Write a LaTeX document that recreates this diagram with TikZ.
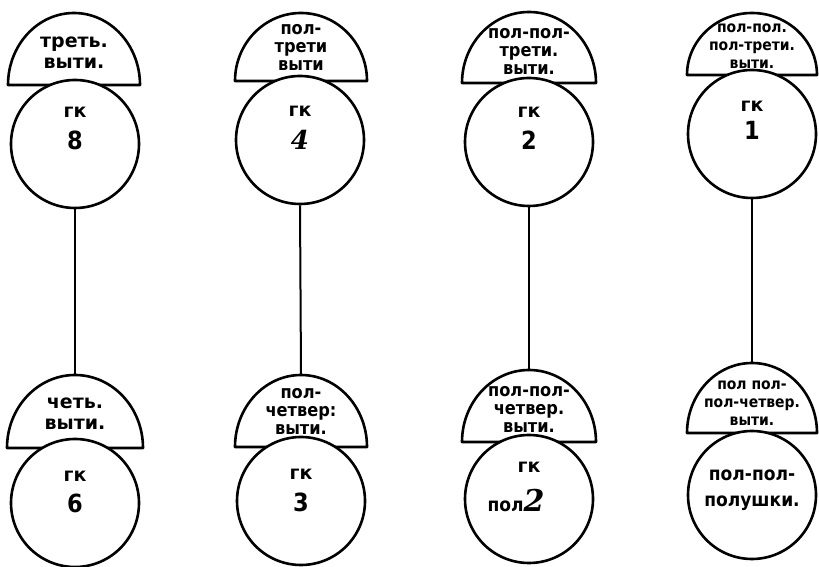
\documentclass[tikz,border=0pt]{standalone}
\usepackage{fontspec}
\newfontfamily\lblfam{DejaVu Sans}
\newfontfamily\condfam{DejaVu Sans Condensed}
\newfontfamily\serifit{DejaVu Serif}
\newcommand\domeat[5]{%
  \draw[dome] ({#1-#3},#2) -- ({#1+#3},#2) arc[start angle=0,end angle=180,x radius=#3,y radius=#4] -- cycle;
  \coordinate (#5) at (#1,{#2+#4});}
\begin{document}
\begin{tikzpicture}[x=1pt,y=1pt,
  dome/.style={draw, line width=2.6pt, fill=white, line join=round},
  disc/.style={circle, draw, line width=2.6pt, fill=white, minimum size=128pt, inner sep=0pt},
  link/.style={line width=2pt},
  lbl/.style={align=center, inner sep=0pt, font=\condfam\bfseries\fontsize{18}{18}\selectfont},
  lblwide/.style={align=center, inner sep=0pt, font=\lblfam\bfseries\fontsize{19}{21}\selectfont},
  lblsmall/.style={align=center, inner sep=0pt, font=\condfam\bfseries\fontsize{15.5}{18}\selectfont},
  unit/.style={inner sep=0pt, font=\lblfam\bfseries\fontsize{19}{20}\selectfont},
  num/.style={inner sep=0pt, font=\condfam\bfseries\fontsize{25}{28}\selectfont},
  inum/.style={inner sep=0pt, font=\serifit\bfseries\itshape\fontsize{26}{28}\selectfont},
  body/.style={align=center, inner sep=0pt, font=\condfam\bfseries\fontsize{19}{26}\selectfont}
]
\useasboundingbox (0,0) rectangle (819,567);

% ---------- column 1 ----------
\domeat{74}{482}{66}{72}{t1apex}
\node[lblwide] (t1lbl) at (74,514) {треть.\\выти.};
\node[disc] (t1) at (75,423) {};
\node[unit] (t1u) at (75,455) {гк};
\node[num] (t1n) at (75,427) {8};
\domeat{75}{119}{68}{73}{b1apex}
\node[lblwide] (b1lbl) at (75,153) {четь.\\выти.};
\node[disc] (b1) at (75,64) {};
\node[unit] (b1u) at (75,91) {гк};
\node[num] (b1n) at (75,64) {6};
\draw[link] (t1.south) -- (b1apex);

% ---------- column 2 ----------
\domeat{301}{486}{66}{68}{t2apex}
\node[lbl] (t2lbl) at (301,520) {пол-\\трети\\выти};
\node[disc] (t2) at (300,427) {};
\node[unit] (t2u) at (300,456) {гк};
\node[inum] (t2n) at (300,427) {4};
\domeat{301}{120}{66}{72}{b2apex}
\node[lbl] (b2lbl) at (301,156) {пол-\\четвер:\\выти.};
\node[disc] (b2) at (301,66) {};
\node[unit] (b2u) at (301,93) {гк};
\node[num] (b2n) at (301,65) {3};
\draw[link] (t2.south) -- (b2apex);

% ---------- column 3 ----------
\domeat{529}{484}{67}{71}{t3apex}
\node[lbl] (t3lbl) at (529,516) {пол-пол-\\трети.\\выти.};
\node[disc] (t3) at (529,425) {};
\node[unit] (t3u) at (529,455) {гк};
\node[num] (t3n) at (529,427) {2};
\domeat{529}{125}{67}{72}{b3apex}
\node[lbl] (b3lbl) at (529,158) {пол-пол-\\четвер.\\выти.};
\node[disc] (b3) at (529,68) {};
\node[unit] (b3u) at (529,100) {гк};
\node[inner sep=0pt] (b3n) at (516,66) {{\condfam\bfseries\fontsize{19}{20}\selectfont пол}{\serifit\bfseries\itshape\fontsize{30}{32}\selectfont 2}};
\draw[link] (t3.south) -- (b3apex);

% ---------- column 4 ----------
\domeat{752}{492}{65}{62}{t4apex}
\node[lblsmall] (t4lbl) at (752,521) {пол-пол.\\пол-трети.\\выти.};
\node[disc] (t4) at (752,433) {};
\node[unit] (t4u) at (752,461) {гк};
\node[num] (t4n) at (752,437) {1};
\domeat{752}{134}{65}{70}{b4apex}
\node[lblsmall] (b4lbl) at (752,164) {пол пол-\\пол-четвер.\\выти.};
\node[disc] (b4) at (752,72) {};
\node[body] (b4txt) at (752,77) {пол-пол-\\полушки.};
\draw[link] (t4.south) -- (b4apex);
\end{tikzpicture}
\end{document}
